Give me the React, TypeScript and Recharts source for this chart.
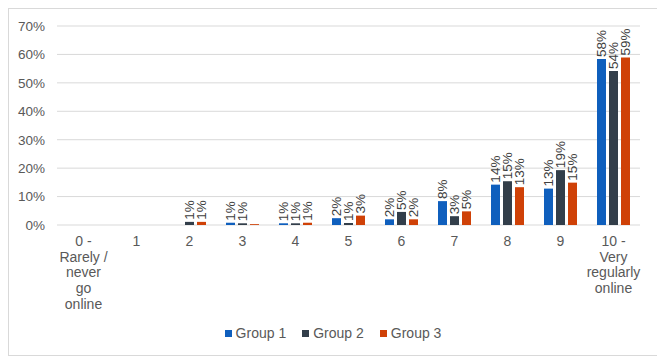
import { BarChart, Bar, XAxis, YAxis, CartesianGrid, LabelList } from "recharts";

// categories of the 0-10 scale, "\n" marks where the label wraps
const categories = [
    "0 -\nRarely /\nnever\ngo\nonline",
    "1",
    "2",
    "3",
    "4",
    "5",
    "6",
    "7",
    "8",
    "9",
    "10 -\nVery\nregularly\nonline",
];

// percentages
const group1 = [0, 0, 0, 0.8, 0.6, 2.4, 2.0, 8.4, 14.2, 12.8, 58.4];
const group2 = [0, 0, 1.1, 0.6, 0.6, 0.7, 4.6, 3.1, 15.4, 19.3, 54.2];
const group3 = [0, 0, 1.1, 0.3, 0.8, 3.3, 2.0, 4.8, 13.3, 14.9, 58.9];

const yTicks = [0, 10, 20, 30, 40, 50, 60, 70];

const series = [
    { key: "g1", name: "Group 1", color: "#0f5fbd" },
    { key: "g2", name: "Group 2", color: "#323e4a" },
    { key: "g3", name: "Group 3", color: "#cf4107" },
];

const data = categories.map((c, i) => ({
    cat: c,
    g1: group1[i],
    g2: group2[i],
    g3: group3[i],
}));

const FONT = "'Liberation Sans', Arial, sans-serif";

const CategoryTick = (props: any) => {
    const { x, y, payload } = props;
    const lines = String(payload.value).split("\n");
    return (
        <g>
            {lines.map((line, i) => (
                <text
                    key={i}
                    x={x}
                    y={y + 21 + i * 15.7}
                    textAnchor="middle"
                    fill="#595959"
                    fontSize={14}
                    fontFamily={FONT}
                >
                    {line}
                </text>
            ))}
        </g>
    );
};

const RotatedLabel = (props: any) => {
    const { x, y, width, value } = props;
    const rounded = Math.round(value);
    if (!rounded) return null;
    const cx = x + width / 2;
    const cy = y - 2;
    return (
        <text
            x={cx}
            y={cy}
            transform={`rotate(-90 ${cx} ${cy})`}
            textAnchor="start"
            dominantBaseline="central"
            fill="#404040"
            fontSize={13.5}
            fontFamily={FONT}
        >
            {rounded}%
        </text>
    );
};

export default function App() {
    return (
        <div
            style={{
                width: 648,
                height: 346,
                border: "1px solid #d9d9d9",
                background: "#fff",
                position: "relative",
                fontFamily: FONT,
            }}
        >
            <BarChart
                width={648}
                height={346}
                data={data}
                margin={{ top: 17, right: 17, bottom: 46, left: 0 }}
                barSize={9}
                barGap={3}
            >
                <CartesianGrid vertical={false} stroke="#d9d9d9" />
                <XAxis
                    dataKey="cat"
                    axisLine={false}
                    tickLine={false}
                    tickSize={0}
                    tickMargin={0}
                    interval={0}
                    height={84}
                    tick={<CategoryTick />}
                />
                <YAxis
                    domain={[0, 70]}
                    ticks={yTicks}
                    width={48}
                    axisLine={false}
                    tickLine={false}
                    tickSize={0}
                    tickMargin={12}
                    tickFormatter={(v: number) => `${v}%`}
                    tick={{ fill: "#595959", fontSize: 13.5, fontFamily: FONT }}
                />
                {series.map((s) => (
                    <Bar key={s.key} dataKey={s.key} name={s.name} fill={s.color} isAnimationActive={false}>
                        <LabelList dataKey={s.key} content={<RotatedLabel />} />
                    </Bar>
                ))}
            </BarChart>
            <div
                style={{
                    position: "absolute",
                    top: 316,
                    left: 0,
                    width: 648,
                    display: "flex",
                    justifyContent: "center",
                    gap: 16,
                    fontSize: 14,
                    color: "#595959",
                }}
            >
                {series.map((s) => (
                    <div key={s.key} style={{ display: "flex", alignItems: "center" }}>
                        <span style={{ width: 7, height: 7, background: s.color, marginRight: 4, display: "inline-block" }} />
                        <span>{s.name}</span>
                    </div>
                ))}
            </div>
        </div>
    );
}
